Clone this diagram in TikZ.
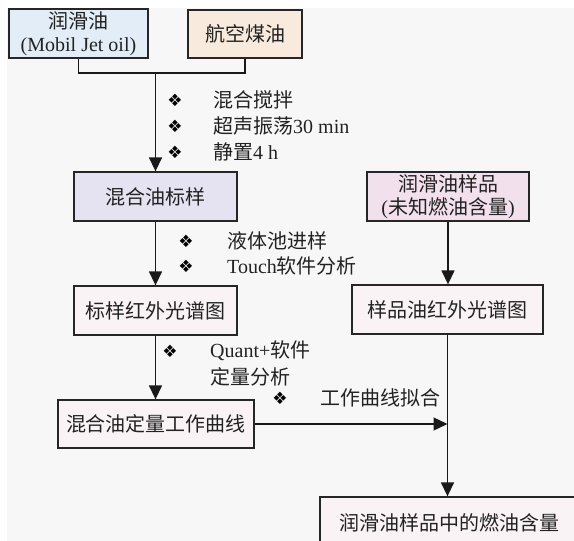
\documentclass[tikz,border=0pt]{standalone}
\usepackage{fontspec}
\setmainfont{Liberation Serif}
\newfontfamily\cjk{Noto Sans CJK SC}
\newfontfamily\dingf{DejaVu Sans}
\usetikzlibrary{arrows.meta}
\definecolor{bgc}{HTML}{F8F7F7}
\definecolor{cblue}{HTML}{E2EDF7}
\definecolor{cpeach}{HTML}{F8EBDD}
\definecolor{clav}{HTML}{E5E3F1}
\definecolor{cpink}{HTML}{F3E0ED}
\definecolor{cpale}{HTML}{F9F3F5}
\definecolor{txt}{HTML}{222222}
\tikzset{
  box/.style={draw=black!85, line width=1.3pt, inner sep=0pt, align=center,
    text=txt, font=\fontsize{20}{23}\selectfont},
  conn/.style={line width=1.4pt, draw=black!90},
  arr/.style={conn, -{Triangle[width=13pt,length=14pt]}},
  lbl/.style={anchor=west, inner sep=0pt, text=txt, font=\fontsize{20}{23}\selectfont},
  dg/.style={inner sep=0pt, text=black, font=\dingf\fontsize{17}{19}\selectfont}
}
\begin{document}
\begin{tikzpicture}[x=1pt,y=-1pt]
\useasboundingbox (0,0) rectangle (574,541);
\clip (0,0) rectangle (574,541);
\fill[white] (0,0) rectangle (574,541);
\fill[bgc] (7,8) rectangle (574,541);
% boxes
\node[box, fill=cblue, minimum width=139pt, minimum height=49pt] (b1) at (78.5,33.5) {{\cjk 润滑油}\\(Mobil Jet oil)};
\node[box, fill=cpeach, minimum width=114pt, minimum height=48pt] (b2) at (245,34) {\cjk 航空煤油};
\node[box, fill=clav, minimum width=163pt, minimum height=49pt] (b3) at (155.5,196.5) {\cjk 混合油标样};
\node[box, fill=cpale, minimum width=163pt, minimum height=49pt] (b4) at (155.5,310.5) {\cjk 标样红外光谱图};
\node[box, fill=cpink, minimum width=162pt, minimum height=49pt] (b5) at (448,196.5) {{\cjk 润滑油样品}\\({\cjk 未知燃油含量})};
\node[box, fill=cpale, minimum width=191pt, minimum height=49pt] (b6) at (447.5,309.5) {\cjk 样品油红外光谱图};
\node[box, fill=cpale, minimum width=196pt, minimum height=48pt] (b7) at (156,424) {\cjk 混合油定量工作曲线};
\node[box, fill=cpale, minimum width=258pt, minimum height=51pt] (b8) at (449,522.5) {\cjk 润滑油样品中的燃油含量};
% connectors
\coordinate (m) at (155.5,73);
\draw[conn] (b1.south) |- (m) -| (b2.south);
\draw[arr] (m) -- (b3.north);
\draw[arr] (b3.south) -- (b4.north);
\draw[arr] (b4.south) -- (b4.south |- b7.north);
\draw[arr] (b5.south) -- (b5.south |- b6.north);
\draw[arr] (b6.south) -- (b6.south |- b8.north);
\draw[arr] (b7.east) -- (b7.east -| b6.south);
% labels
\node[dg] (d1) at (175,100) {❖};
\node[dg] (d2) at (175,126) {❖};
\node[dg] (d3) at (175,152) {❖};
\node[lbl] (t1) at (213,100) {\cjk 混合搅拌};
\node[lbl] (t2) at (213,126) {{\cjk 超声振荡}30 min};
\node[lbl] (t3) at (213,152) {{\cjk 静置}4 h};
\node[dg] (d4) at (186,241) {❖};
\node[dg] (d5) at (186,266) {❖};
\node[lbl] (t4) at (227,241) {\cjk 液体池进样};
\node[lbl] (t5) at (227,266) {Touch{\cjk 软件分析}};
\node[dg] (d6) at (170,351) {❖};
\node[lbl] (t6) at (210,351) {Quant+{\cjk 软件}};
\node[lbl] (t7) at (210,377) {\cjk 定量分析};
\node[dg] (d7) at (280,398) {❖};
\node[lbl] (t8) at (320,398) {\cjk 工作曲线拟合};
\end{tikzpicture}
\end{document}
